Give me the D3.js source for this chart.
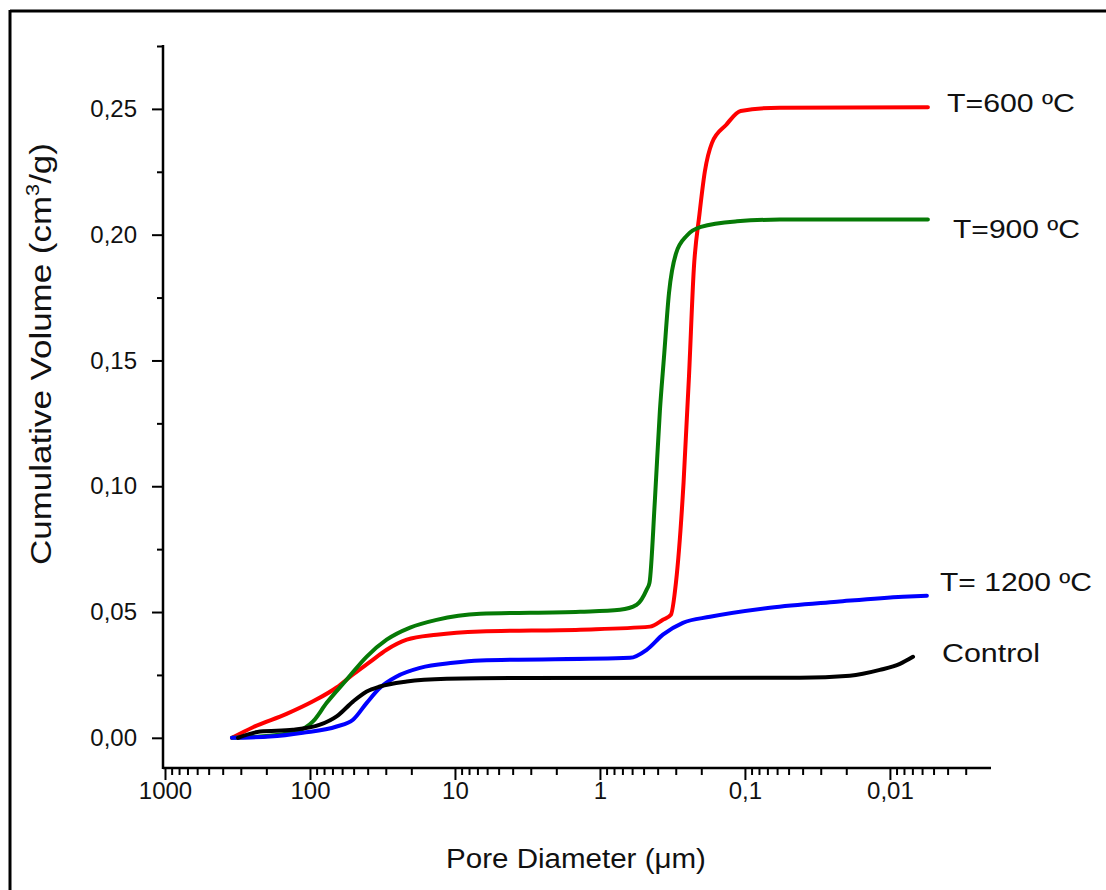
<!DOCTYPE html>
<html>
<head>
<meta charset="utf-8">
<script src="https://cdn.jsdelivr.net/npm/d3@7"></script>
<style>
  html, body { margin: 0; padding: 0; background: #fff; }
  svg text { font-family: "Liberation Sans", Arial, Helvetica, sans-serif; fill: #111; }
</style>
</head>
<body>
<svg id="chart" width="1106" height="890"></svg>
<script>
// pore diameter (um) and cumulative volume (cm3/g)
const t600D = [345, 247, 145, 95.3, 65.5, 50.5, 38.5, 29.6, 21.5, 13.4, 6.7, 1.37, 0.452, 0.368, 0.324, 0.299, 0.265, 0.243, 0.225, 0.206, 0.189, 0.169, 0.135, 0.107, 0.0574, 0.00547];
const t600V = [0, 0.0042, 0.0095, 0.0145, 0.0200, 0.0252, 0.0302, 0.035, 0.039, 0.041, 0.0423, 0.043, 0.0442, 0.0469, 0.0489, 0.0617, 0.1014, 0.144, 0.1867, 0.208, 0.2251, 0.2364, 0.2436, 0.2492, 0.2505, 0.2507];

const t900D = [345, 189, 123.6, 95.3, 76.7, 55.9, 40.6, 29.6, 20.4, 13.4, 6.7, 1.37, 0.728, 0.558, 0.476, 0.455, 0.418, 0.386, 0.362, 0.334, 0.299, 0.251, 0.201, 0.1135, 0.0574, 0.00547];
const t900V = [0, 0.0008, 0.0025, 0.0065, 0.0139, 0.0231, 0.0323, 0.039, 0.0438, 0.0469, 0.0493, 0.0501, 0.0509, 0.0529, 0.0589, 0.0617, 0.0943, 0.130, 0.151, 0.1768, 0.1925, 0.1997, 0.2031, 0.2053, 0.206, 0.206];

const t1200D = [345, 189, 112, 65.5, 50.5, 40.6, 32.9, 25.2, 17.4, 10.3, 6.7, 0.621, 0.476, 0.368, 0.268, 0.174, 0.0673, 0.0232, 0.00813, 0.00556];
const t1200V = [0, 0.0005, 0.002, 0.0045, 0.0072, 0.0139, 0.0199, 0.0244, 0.0278, 0.0298, 0.0307, 0.0318, 0.035, 0.041, 0.0457, 0.0481, 0.0517, 0.0541, 0.0561, 0.0565];

const controlD = [314, 221, 131, 85.3, 65.5, 50.5, 40.6, 32.9, 21.5, 11.4, 6.7, 0.0418, 0.0189, 0.01173, 0.00853, 0.00693];
const controlV = [0, 0.0025, 0.0032, 0.0052, 0.0085, 0.0144, 0.0184, 0.0204, 0.0224, 0.0235, 0.0237, 0.0239, 0.0247, 0.027, 0.0294, 0.0322];

const xTickVals = [1000, 100, 10, 1, 0.1, 0.01];
const xTickLabels = ['1000', '100', '10', '1', '0,1', '0,01'];
const yTickVals = [0, 0.05, 0.10, 0.15, 0.20, 0.25];
const yTickLabels = ['0,00', '0,05', '0,10', '0,15', '0,20', '0,25'];

const seriesNames = ['T=600 ºC', 'T=900 ºC', 'T= 1200 ºC', 'Control'];
const seriesColors = ['#ff0000', '#067a06', '#0000ff', '#000000'];

const series = [
  { name: seriesNames[0], color: seriesColors[0], d: t600D, v: t600V },
  { name: seriesNames[1], color: seriesColors[1], d: t900D, v: t900V },
  { name: seriesNames[2], color: seriesColors[2], d: t1200D, v: t1200V },
  { name: seriesNames[3], color: seriesColors[3], d: controlD, v: controlV }
];

const svg = d3.select('#chart');

// frame lines (top and left only, like the scan)
svg.append('line').attr('x1', 10).attr('y1', 11).attr('x2', 1106).attr('y2', 11)
    .attr('stroke', '#000').attr('stroke-width', 3);
svg.append('line').attr('x1', 10).attr('y1', 10).attr('x2', 10).attr('y2', 890)
    .attr('stroke', '#000').attr('stroke-width', 3);

// scales
const x = d3.scaleLog().domain([1000, 0.00204]).range([165, 990]);
const y = d3.scaleLinear().domain([-0.012, 0.275]).range([768, 46]);
const axisX = 163, axisY = 768;

// minor x ticks: 2..9 x 10^k inside the domain
const minorX = [];
for (let k = -3; k <= 3; k++) {
  for (let m = 2; m <= 9; m++) {
    const val = m * Math.pow(10, k);
    if (val <= 1000 && val >= 0.00204) minorX.push(val);
  }
}
const minorY = [0.025, 0.075, 0.125, 0.175, 0.225, 0.275];

const gx = svg.append('g').attr('transform', 'translate(0,' + axisY + ')');
gx.call(d3.axisBottom(x).tickValues(minorX).tickSize(7).tickSizeOuter(0).tickFormat(''));
gx.append('g').call(d3.axisBottom(x).tickValues(xTickVals).tickSize(12).tickSizeOuter(0)
    .tickFormat((d, i) => xTickLabels[i]));
gx.selectAll('.domain').remove();
gx.selectAll('line').attr('stroke', '#000').attr('stroke-width', 2);
gx.selectAll('text').attr('font-size', 24).attr('fill', '#111').attr('dy', null).attr('y', 31)
    .attr('font-family', '"Liberation Sans", Arial, sans-serif');

const gy = svg.append('g').attr('transform', 'translate(' + axisX + ',0)');
gy.call(d3.axisLeft(y).tickValues(minorY).tickSize(6).tickSizeOuter(0).tickFormat(''));
gy.append('g').call(d3.axisLeft(y).tickValues(yTickVals).tickSize(11).tickSizeOuter(0)
    .tickFormat((d, i) => yTickLabels[i]));
gy.selectAll('.domain').remove();
gy.selectAll('line').attr('stroke', '#000').attr('stroke-width', 2);
gy.selectAll('text').attr('font-size', 24).attr('fill', '#111').attr('x', -26)
    .attr('font-family', '"Liberation Sans", Arial, sans-serif');

// axis lines
svg.append('line').attr('x1', axisX).attr('x2', 991).attr('y1', axisY).attr('y2', axisY)
    .attr('stroke', '#000').attr('stroke-width', 2.5);
svg.append('line').attr('x1', axisX).attr('x2', axisX).attr('y1', 45).attr('y2', axisY + 1)
    .attr('stroke', '#000').attr('stroke-width', 2.5);

// curves
const line = d3.line()
    .x(p => x(p[0]))
    .y(p => y(p[1]))
    .curve(d3.curveMonotoneX);

series.forEach(s => {
  const pts = s.d.map((d, i) => [d, s.v[i]]);
  svg.append('path')
      .datum(pts)
      .attr('fill', 'none')
      .attr('stroke', s.color)
      .attr('stroke-width', 4)
      .attr('stroke-linejoin', 'round')
      .attr('stroke-linecap', 'round')
      .attr('d', line);
});

// squeeze/stretch a text to the width seen in the picture
function fitText(t, w, base) {
  const bw = t.node().getBBox().width;
  t.attr('transform', base + ' scale(' + (w / bw) + ',1)');
}

// series labels
const labelPos = [
  { x: 947, y: 112, w: 128 },
  { x: 953, y: 238, w: 127 },
  { x: 940, y: 591, w: 152 },
  { x: 942, y: 662, w: 98 }
];
series.forEach((s, i) => {
  const p = labelPos[i];
  const t = svg.append('text')
      .attr('font-size', 25)
      .attr('fill', '#111')
      .text(s.name);
  fitText(t, p.w, 'translate(' + p.x + ',' + p.y + ')');
});

// axis titles
const xt = svg.append('text')
    .attr('font-size', 28)
    .attr('text-anchor', 'middle')
    .attr('fill', '#111')
    .text('Pore Diameter (μm)');
fitText(xt, 260, 'translate(576,868)');

const yt = svg.append('text')
    .attr('font-size', 29)
    .attr('text-anchor', 'middle')
    .attr('fill', '#111');
yt.append('tspan').text('Cumulative Volume (cm');
yt.append('tspan').attr('font-size', 18).attr('dy', -12).text('3');
yt.append('tspan').attr('dy', 12).text('/g)');
fitText(yt, 422, 'translate(51,354) rotate(-90)');
</script>
</body>
</html>
